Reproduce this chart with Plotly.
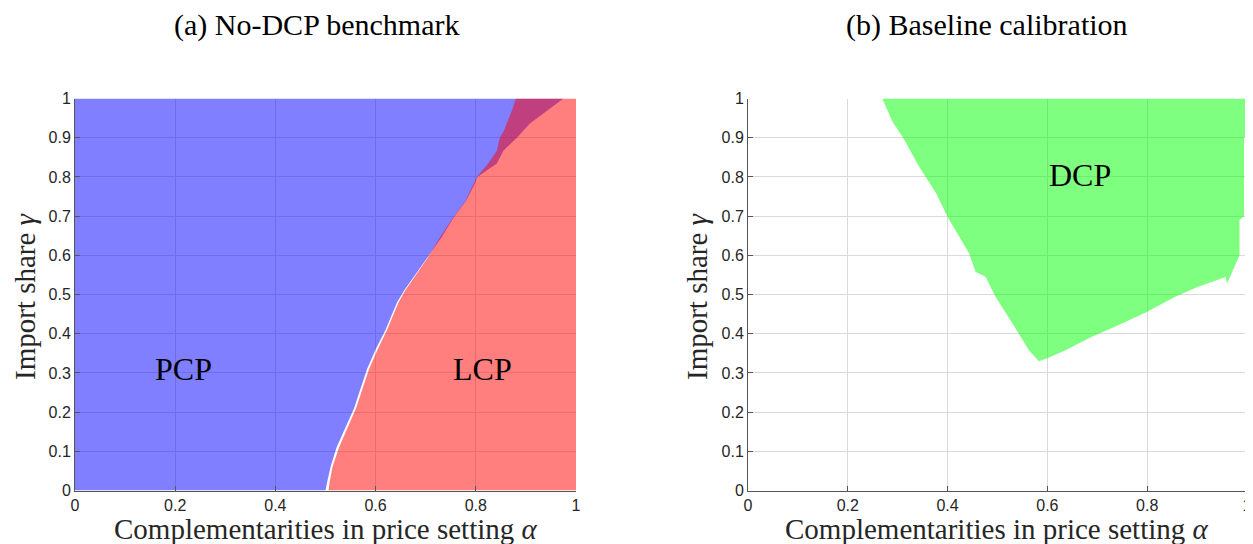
import plotly.graph_objects as go

# ---------------- data ----------------
# Panel (a): right edge of the PCP region (alpha as a function of gamma)
pcp_gamma = [0.0, 0.02, 0.06, 0.11, 0.16, 0.21, 0.26, 0.31, 0.36, 0.41, 0.45, 0.48, 0.51,
             0.54, 0.59, 0.645, 0.70, 0.74, 0.78, 0.80, 0.834, 0.867, 0.90, 0.936, 0.969, 0.99, 1.0]
pcp_alpha = [0.500, 0.503, 0.510, 0.522, 0.540, 0.557, 0.570, 0.583, 0.600, 0.620, 0.633, 0.643, 0.657,
             0.673, 0.701, 0.731, 0.758, 0.781, 0.797, 0.803, 0.842, 0.855, 0.882, 0.908, 0.942, 0.965, 0.975]

# Panel (a): left edge of the LCP region (alpha as a function of gamma)
lcp_gamma = [0.0, 0.02, 0.06, 0.11, 0.16, 0.21, 0.26, 0.31, 0.36, 0.41, 0.45, 0.48, 0.51,
             0.54, 0.59, 0.645, 0.70, 0.74, 0.78, 0.80, 0.834, 0.867, 0.90, 0.918, 0.969, 1.0]
lcp_alpha = [0.506, 0.508, 0.514, 0.527, 0.544, 0.561, 0.574, 0.587, 0.604, 0.623, 0.636, 0.646, 0.659,
             0.675, 0.702, 0.728, 0.757, 0.780, 0.795, 0.802, 0.825, 0.842, 0.848, 0.856, 0.872, 0.880]

# Panel (b): outline of the DCP region (alpha, gamma vertices)
dcp_alpha = [0.269, 0.290, 0.310, 0.343, 0.377, 0.400, 0.443, 0.456, 0.476, 0.496, 0.530, 0.563,
             0.583, 0.599, 0.636, 0.689, 0.743, 0.800, 0.856, 0.902, 0.949, 0.957, 0.960, 0.969,
             0.982, 0.985, 0.985, 0.994, 0.994, 1.0, 1.0]
dcp_gamma = [1.0, 0.940, 0.902, 0.826, 0.758, 0.698, 0.605, 0.558, 0.545, 0.494, 0.426, 0.358,
             0.330, 0.337, 0.358, 0.392, 0.422, 0.456, 0.494, 0.520, 0.541, 0.545, 0.528, 0.553,
             0.588, 0.600, 0.690, 0.700, 0.900, 0.905, 1.0]

x_ticks = [0, 0.2, 0.4, 0.6, 0.8, 1]
x_ticklabels = ["0", "0.2", "0.4", "0.6", "0.8", "1"]
y_ticks = [0, 0.1, 0.2, 0.3, 0.4, 0.5, 0.6, 0.7, 0.8, 0.9, 1]
y_ticklabels = ["0", "0.1", "0.2", "0.3", "0.4", "0.5", "0.6", "0.7", "0.8", "0.9", "1"]

titles = ["(a) No-DCP benchmark", "(b) Baseline calibration"]
x_label = "Complementarities in price setting <i>α</i>"
y_label = "Import share <i>γ</i>"

# ---------------- figure ----------------
OFF = 8                      # page body margin in the browser
W, H = 1253 - OFF, 544 - OFF
SERIF = "Liberation Serif"
SANS = "Liberation Sans"

fig = go.Figure()

# PCP polygon: left edge at alpha=0, right edge = pcp boundary
pcp_x = [0.0] + pcp_alpha + [0.0]
pcp_y = [0.0] + pcp_gamma + [1.0]
fig.add_trace(go.Scatter(x=pcp_x, y=pcp_y, fill="toself", mode="lines",
                         line=dict(width=0, color="rgba(0,0,0,0)"),
                         fillcolor="rgba(0,0,255,0.5)", hoverinfo="skip",
                         showlegend=False, xaxis="x", yaxis="y"))

# LCP polygon: left edge = lcp boundary, right edge at alpha=1
lcp_x = lcp_alpha + [1.0, 1.0]
lcp_y = lcp_gamma + [1.0, 0.0]
fig.add_trace(go.Scatter(x=lcp_x, y=lcp_y, fill="toself", mode="lines",
                         line=dict(width=0, color="rgba(0,0,0,0)"),
                         fillcolor="rgba(255,0,0,0.5)", hoverinfo="skip",
                         showlegend=False, xaxis="x", yaxis="y"))

# DCP polygon
fig.add_trace(go.Scatter(x=dcp_alpha, y=dcp_gamma, fill="toself", mode="lines",
                         line=dict(width=0, color="rgba(0,0,0,0)"),
                         fillcolor="rgba(0,255,0,0.5)", hoverinfo="skip",
                         showlegend=False, xaxis="x2", yaxis="y2"))

def px_x(p):
    return (p - OFF) / W

def px_y(p):
    return 1 - (p - OFF) / H

ax_common = dict(range=[0, 1], showgrid=True, gridcolor="#dadada", gridwidth=1,
                 zeroline=False, showline=True, linecolor="#555555", linewidth=1,
                 ticks="inside", ticklen=5, tickcolor="#555555",
                 tickfont=dict(family=SANS, size=16, color="#262626"),
                 ticklabeloverflow="allow",
                 automargin=False, fixedrange=True)

ydom = [px_y(490.5), px_y(98.5)]
fig.update_layout(
    template="none",
    width=W, height=H,
    margin=dict(l=0, r=0, t=0, b=0, pad=0),
    paper_bgcolor="white", plot_bgcolor="white",
    showlegend=False,
    xaxis=dict(domain=[px_x(75), px_x(576)], anchor="y", tickvals=x_ticks,
               ticktext=x_ticklabels, **ax_common),
    yaxis=dict(domain=ydom, anchor="x", tickvals=y_ticks, ticktext=y_ticklabels, **ax_common),
    xaxis2=dict(domain=[px_x(748), px_x(1247)], anchor="y2", tickvals=x_ticks,
                ticktext=x_ticklabels, **ax_common),
    yaxis2=dict(domain=ydom, anchor="x2", tickvals=y_ticks, ticktext=y_ticklabels, **ax_common),
)

ann = []
# panel titles
for t, cx in zip(titles, [316, 987]):
    ann.append(dict(text=t, x=px_x(cx), y=px_y(25), xref="paper", yref="paper",
                    showarrow=False, xanchor="center", yanchor="middle",
                    font=dict(family=SERIF, size=30, color="black")))
# axis labels
for cx in [326, 997]:
    ann.append(dict(text=x_label, x=px_x(cx), y=px_y(529), xref="paper", yref="paper",
                    showarrow=False, xanchor="center", yanchor="middle",
                    font=dict(family=SERIF, size=29, color="#262626")))
for cx in [25, 697]:
    ann.append(dict(text=y_label, x=px_x(cx), y=px_y(296), xref="paper", yref="paper",
                    showarrow=False, xanchor="center", yanchor="middle", textangle=-90,
                    font=dict(family=SERIF, size=29, color="#262626")))
# region labels
ann.append(dict(text="PCP", x=0.216, y=0.31, xref="x", yref="y", showarrow=False,
                font=dict(family=SERIF, size=32, color="black")))
ann.append(dict(text="LCP", x=0.814, y=0.31, xref="x", yref="y", showarrow=False,
                font=dict(family=SERIF, size=32, color="black")))
ann.append(dict(text="DCP", x=0.665, y=0.805, xref="x2", yref="y2", showarrow=False,
                font=dict(family=SERIF, size=32, color="black")))
fig.update_layout(annotations=ann)

fig.write_html("out.html")
